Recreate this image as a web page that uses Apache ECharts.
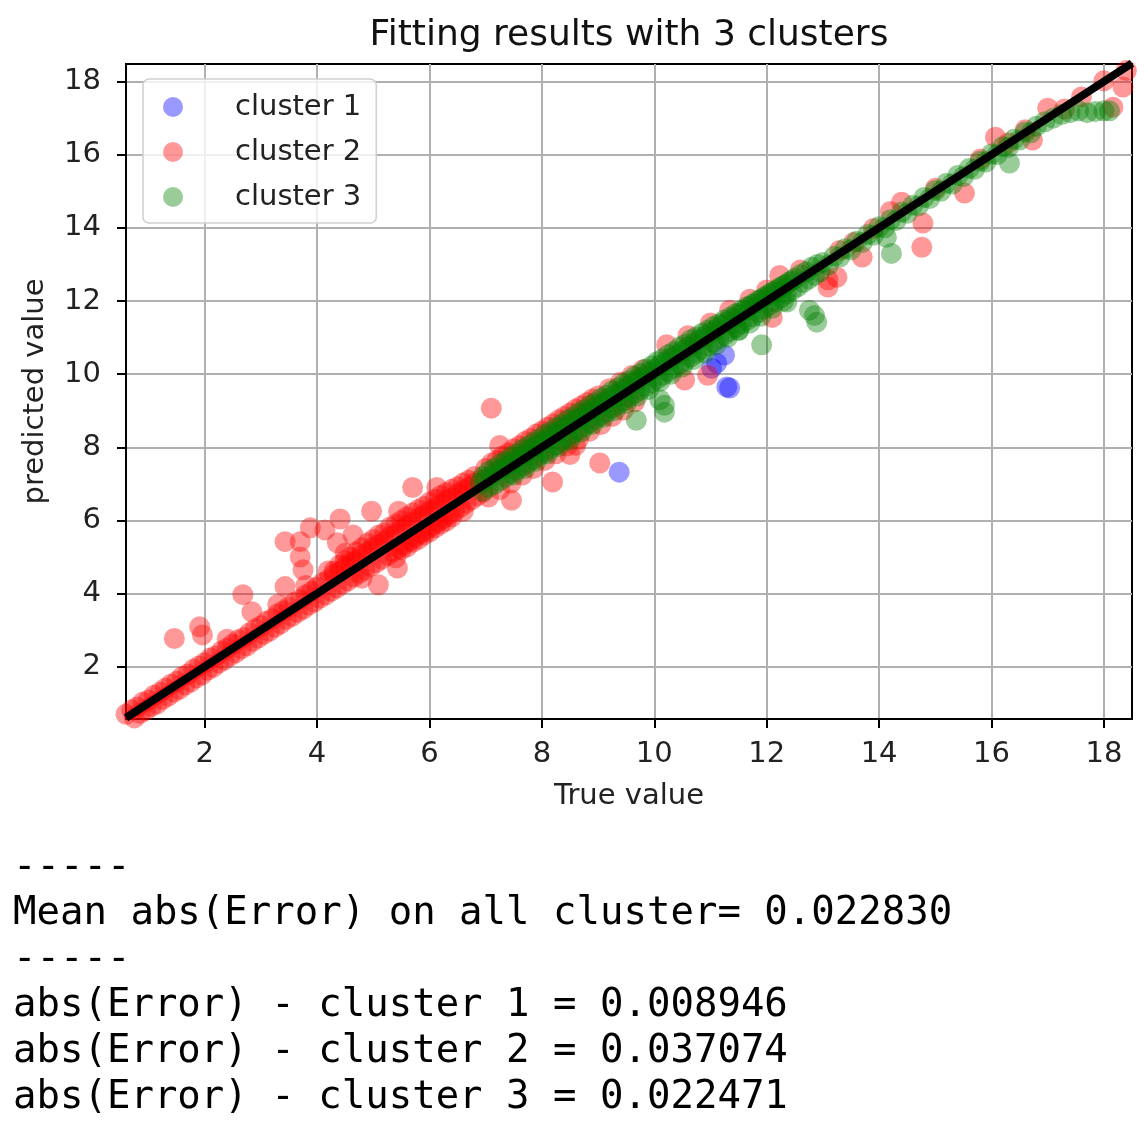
<!DOCTYPE html>
<html>
<head>
<meta charset="utf-8">
<script src="https://cdn.jsdelivr.net/npm/echarts@6/dist/echarts.min.js"></script>
<style>
html,body{margin:0;padding:0;background:#fff;}
#chart{width:1148px;height:1126px;}
</style>
</head>
<body>
<div id="chart"></div>
<script>
// ---- data ----
const chartTitle = 'Fitting results with 3 clusters';
const xAxisName = 'True value';
const yAxisName = 'predicted value';
const seriesNames = ['cluster 1', 'cluster 2', 'cluster 3'];
const seriesColors = ['rgba(0,0,255,0.5)', 'rgba(255,0,0,0.5)', 'rgba(0,128,0,0.5)'];
const xTicks = [2, 4, 6, 8, 10, 12, 14, 16, 18];
const yTicks = [2, 4, 6, 8, 10, 12, 14, 16, 18];
const xRange = [0.6, 18.5];
const yRange = [0.57, 18.48];
const diagonalLine = [[0.6, 0.6], [18.5, 18.5]];

const cluster1Points = [
  [9.375, 7.32], [11.34, 9.62], [11.29, 9.65], [11.11, 10.3], [11.02, 10.16], [11.25, 10.52]
];

const cluster2Points = [
  // upper edge of dense band (0.6 - 6.9)
  [0.6,0.7],[0.7,0.82],[0.8,0.9],[0.9,1.03],[1.0,1.09],[1.1,1.22],[1.2,1.3],[1.3,1.41],[1.4,1.52],[1.5,1.6],
  [1.6,1.73],[1.7,1.8],[1.8,1.93],[1.9,2.02],[2.0,2.11],[2.1,2.24],[2.2,2.3],[2.3,2.43],[2.4,2.51],[2.5,2.62],
  [2.6,2.74],[2.7,2.8],[2.8,2.93],[2.9,3.03],[3.0,3.12],[3.1,3.24],[3.2,3.31],[3.3,3.45],[3.4,3.53],[3.5,3.64],
  [3.6,3.76],[3.7,3.84],[3.8,3.97],[3.9,4.06],[4.0,4.18],[4.1,4.3],[4.2,4.38],[4.3,4.52],[4.4,4.6],[4.5,4.74],
  [4.6,4.83],[4.7,4.92],[4.8,5.06],[4.9,5.14],[5.0,5.26],[5.1,5.35],[5.2,5.44],[5.3,5.57],[5.4,5.65],[5.5,5.76],
  [5.6,5.86],[5.7,5.94],[5.8,6.07],[5.9,6.15],[6.0,6.26],[6.1,6.34],[6.2,6.43],[6.3,6.55],[6.4,6.62],[6.5,6.73],
  [6.6,6.82],[6.7,6.9],[6.8,7.02],[6.9,7.1],
  // second upper row (4.3 - 6.8)
  [4.3,4.62],[4.4,4.78],[4.5,4.9],[4.6,5.0],[4.7,5.14],[4.8,5.25],[4.9,5.38],[5.0,5.48],[5.1,5.6],[5.2,5.66],
  [5.3,5.82],[5.4,5.9],[5.5,6.0],[5.6,6.1],[5.7,6.2],[5.8,6.3],[5.9,6.38],[6.0,6.5],[6.1,6.58],[6.2,6.68],
  [6.3,6.76],[6.4,6.85],[6.5,6.92],[6.6,7.02],[6.7,7.1],[6.8,7.2],
  // lower edge of dense band (0.65 - 6.95)
  [0.65,0.52],[0.75,0.6],[0.85,0.72],[0.95,0.8],[1.05,0.91],[1.15,0.98],[1.25,1.1],[1.35,1.19],[1.45,1.3],[1.55,1.38],
  [1.65,1.5],[1.75,1.58],[1.85,1.69],[1.95,1.78],[2.05,1.9],[2.15,1.98],[2.25,2.1],[2.35,2.18],[2.45,2.29],[2.55,2.38],
  [2.65,2.49],[2.75,2.57],[2.85,2.69],[2.95,2.78],[3.05,2.88],[3.15,2.97],[3.25,3.08],[3.35,3.17],[3.45,3.29],[3.55,3.37],
  [3.65,3.48],[3.75,3.57],[3.85,3.68],[3.95,3.77],[4.05,3.87],[4.15,3.96],[4.25,4.06],[4.35,4.15],[4.45,4.26],[4.55,4.35],
  [4.65,4.45],[4.75,4.55],[4.85,4.64],[4.95,4.74],[5.05,4.84],[5.15,4.94],[5.25,5.04],[5.35,5.14],[5.45,5.24],[5.55,5.34],
  [5.65,5.44],[5.75,5.55],[5.85,5.64],[5.95,5.75],[6.05,5.85],[6.15,5.96],[6.25,6.05],[6.35,6.16],[6.45,6.26],[6.55,6.36],
  [6.65,6.47],[6.75,6.56],[6.85,6.67],[6.95,6.77],
  // second lower row (5.5 - 6.4)
  [5.5,5.2],[5.6,5.28],[5.7,5.4],[5.8,5.48],[5.9,5.6],[6.0,5.68],[6.1,5.8],[6.2,5.9],[6.3,5.98],[6.4,6.1],
  // red around the green band (7 - 10)
  [7.0,7.42],[7.1,7.56],[7.2,7.64],[7.3,7.76],[7.4,7.84],[7.5,7.96],[7.6,8.04],[7.7,8.16],[7.8,8.24],[7.9,8.36],
  [8.0,8.44],[8.1,8.55],[8.2,8.64],[8.3,8.75],[8.4,8.84],[8.5,8.94],[8.6,9.04],[8.7,9.13],[8.8,9.22],[8.9,9.32],
  [9.0,9.4],[9.2,9.6],[9.4,9.78],[9.6,9.96],[9.8,10.12],
  [7.05,6.64],[7.25,6.84],[7.45,7.02],[7.65,7.24],[7.85,7.42],[8.05,7.64],[8.25,7.82],[8.45,8.04],[8.65,8.22],[8.85,8.44],
  [9.05,8.62],[9.25,8.84],[9.45,9.02],[9.65,9.24],
  // spread around band
  [2.4,2.75],[3.3,3.7],[3.8,4.22],[4.2,4.62],[4.8,4.42],[5.4,4.98],[6.6,6.25],[5.45,6.25],[4.5,5.1],
  // outliers
  [1.46,2.77],[1.91,3.09],[1.96,2.87],[2.68,3.97],[2.84,3.5],[3.43,5.42],[3.7,5.42],[3.88,5.8],[4.14,5.74],[4.41,6.04],
  [3.7,5.0],[3.75,4.65],[3.43,4.19],[4.36,5.39],[4.64,5.6],[4.97,6.25],[5.09,4.24],[5.43,4.7],[5.7,6.9],[6.13,6.9],
  [7.1,9.07],[7.25,8.05],[7.46,6.55],[8.19,7.05],[9.03,7.57],[8.5,7.8],[8.6,8.05],
  // 10 - 13
  [10.22,10.8],[10.6,11.05],[11.0,11.4],[11.34,11.75],[11.7,12.05],[12.0,12.3],[12.23,12.7],[12.6,12.85],
  [10.54,9.84],[10.95,9.97],[12.1,11.55],[13.09,12.38],[13.25,12.65],[13.7,13.2],[13.09,12.58],
  // 13 - 18.5
  [13.3,13.38],[13.55,13.6],[13.9,13.98],[14.2,14.45],[14.4,14.7],[14.78,14.13],[14.76,13.47],[15.0,15.08],
  [15.52,14.95],[15.8,15.88],[16.07,16.48],[16.3,16.32],[16.6,16.68],[16.73,16.4],[17.0,17.27],[17.3,17.25],
  [17.6,17.58],[18.0,18.02],[18.16,17.3],[18.34,17.85],[18.4,18.3],[18.45,18.55]
];

const cluster3Points = [
  // top row of band (6.95 - 12.45)
  [6.95,7.2],[7.05,7.34],[7.15,7.42],[7.25,7.54],[7.35,7.62],[7.45,7.74],[7.55,7.82],[7.65,7.94],[7.75,8.02],[7.85,8.14],
  [7.95,8.22],[8.05,8.34],[8.15,8.42],[8.25,8.54],[8.35,8.62],[8.45,8.74],[8.55,8.82],[8.65,8.94],[8.75,9.02],[8.85,9.14],
  [8.95,9.22],[9.05,9.34],[9.15,9.42],[9.25,9.54],[9.35,9.62],[9.45,9.74],[9.55,9.82],[9.65,9.94],[9.75,10.02],[9.85,10.14],
  [9.95,10.22],[10.05,10.34],[10.15,10.42],[10.25,10.54],[10.35,10.62],[10.45,10.74],[10.55,10.82],[10.65,10.94],[10.75,11.02],[10.85,11.12],
  [10.95,11.2],[11.05,11.3],[11.15,11.38],[11.25,11.48],[11.35,11.56],[11.45,11.66],[11.55,11.74],[11.65,11.84],[11.75,11.92],[11.85,12.02],
  [11.95,12.1],[12.05,12.2],[12.15,12.28],[12.25,12.38],[12.35,12.46],[12.45,12.56],
  // upper edge of band (6.9 - 12.9)
  [6.9,7.02],[7.0,7.13],[7.1,7.21],[7.2,7.34],[7.3,7.42],[7.4,7.53],[7.5,7.63],[7.6,7.74],[7.7,7.82],[7.8,7.95],
  [7.9,8.03],[8.0,8.14],[8.1,8.23],[8.2,8.35],[8.3,8.43],[8.4,8.54],[8.5,8.63],[8.6,8.75],[8.7,8.83],[8.8,8.94],
  [8.9,9.03],[9.0,9.15],[9.1,9.23],[9.2,9.34],[9.3,9.44],[9.4,9.53],[9.5,9.65],[9.6,9.73],[9.7,9.84],[9.8,9.93],
  [9.9,10.05],[10.0,10.13],[10.1,10.24],[10.2,10.33],[10.3,10.45],[10.4,10.53],[10.5,10.64],[10.6,10.74],[10.7,10.83],[10.8,10.95],
  [10.9,11.03],[11.0,11.14],[11.1,11.23],[11.2,11.35],[11.3,11.43],[11.4,11.53],[11.5,11.64],[11.6,11.73],[11.7,11.85],[11.8,11.93],
  [11.9,12.04],[12.0,12.13],[12.1,12.23],[12.2,12.33],[12.3,12.42],[12.4,12.52],[12.5,12.62],[12.6,12.72],[12.7,12.8],[12.8,12.92],
  [12.9,13.0],
  // lower edge of band (6.95 - 12.95)
  [6.95,6.8],[7.05,6.9],[7.15,6.98],[7.25,7.08],[7.35,7.18],[7.45,7.28],[7.55,7.37],[7.65,7.48],[7.75,7.57],[7.85,7.67],
  [7.95,7.77],[8.05,7.87],[8.15,7.96],[8.25,8.07],[8.35,8.16],[8.45,8.27],[8.55,8.36],[8.65,8.47],[8.75,8.56],[8.85,8.67],
  [8.95,8.76],[9.05,8.87],[9.15,8.96],[9.25,9.07],[9.35,9.16],[9.45,9.27],[9.55,9.36],[9.65,9.47],[9.75,9.56],[9.85,9.67],
  [9.95,9.76],[10.05,9.87],[10.15,9.96],[10.25,10.07],[10.35,10.16],[10.45,10.27],[10.55,10.36],[10.65,10.47],[10.75,10.57],[10.85,10.67],
  [10.95,10.77],[11.05,10.87],[11.15,10.97],[11.25,11.07],[11.35,11.17],[11.45,11.27],[11.55,11.37],[11.65,11.48],[11.75,11.57],[11.85,11.68],
  [11.95,11.78],[12.05,11.88],[12.15,11.98],[12.25,12.08],[12.35,12.19],[12.45,12.29],[12.55,12.39],[12.65,12.5],[12.75,12.6],[12.85,12.7],
  [12.95,12.8],
  // further below the line (7.5 - 12.3)
  [7.5,7.24],[7.7,7.42],[7.9,7.62],[8.1,7.82],[8.3,8.02],[8.5,8.2],[8.7,8.42],[8.9,8.62],[9.1,8.82],[9.3,9.0],
  [9.5,9.2],[9.7,9.4],[9.9,9.58],[10.1,9.8],[10.3,10.0],[10.5,10.2],[10.7,10.4],[10.9,10.58],[11.1,10.8],[11.3,11.0],
  [11.5,11.2],[11.7,11.4],[11.9,11.58],[12.1,11.8],[12.3,12.0],
  // 13 - 18.1
  [13.0,13.05],[13.1,12.98],[13.2,13.22],[13.3,13.2],[13.4,13.43],[13.5,13.4],[13.6,13.63],[13.7,13.6],[13.8,13.82],[13.9,13.8],
  [14.0,14.03],[14.1,14.0],[14.2,14.22],[14.3,14.2],[14.4,14.43],[14.5,14.4],[14.6,14.62],[14.7,14.6],[14.8,14.83],[14.9,14.8],
  [15.0,15.02],[15.1,15.0],[15.2,15.22],[15.3,15.2],[15.4,15.43],[15.5,15.4],[15.6,15.62],[15.7,15.6],[15.8,15.82],[15.9,15.8],
  [16.0,16.02],[16.1,16.0],[16.2,16.22],[16.3,16.2],[16.4,16.42],[16.5,16.4],[16.6,16.62],[16.7,16.6],[16.8,16.78],[16.95,16.9],
  [17.1,17.0],[17.25,17.1],[17.4,17.15],[17.55,17.2],[17.7,17.15],[17.85,17.18],[18.0,17.2],[18.1,17.2],
  // outliers
  [9.68,8.74],[10.18,8.96],[10.18,9.15],[10.1,9.3],[11.91,10.8],[12.89,11.42],[12.76,11.75],[12.36,11.97],[14.22,13.3],[14.13,13.74],
  [16.32,15.77],[12.85,11.6],[11.5,11.2]
];

const errorLines = [
  '-----',
  'Mean abs(Error) on all cluster= 0.022830',
  '-----',
  'abs(Error) - cluster 1 = 0.008946',
  'abs(Error) - cluster 2 = 0.037074',
  'abs(Error) - cluster 3 = 0.022471'
];

// ---- chart ----
const chart = echarts.init(document.getElementById('chart'), null, { renderer: 'canvas' });
const FONT = 'DejaVu Sans';
const MONO = 'DejaVu Sans Mono';

function axisCommon(name, ticks, range, isX) {
  return {
    type: 'value',
    min: range[0],
    max: range[1],
    splitNumber: 9,
    name: name,
    nameLocation: 'middle',
    nameGap: isX ? 63 : 76,
    nameTextStyle: { fontFamily: FONT, fontSize: 29, color: '#222' },
    axisLine: { show: true, onZero: false, lineStyle: { color: '#000', width: 2 } },
    axisTick: { show: true, length: 9, customValues: ticks, lineStyle: { color: '#000', width: 2 } },
    axisLabel: {
      customValues: ticks, margin: isX ? 21 : 25,
      fontFamily: FONT, fontSize: 29, color: '#222'
    },
    splitLine: { show: true, lineStyle: { color: '#b0b0b0', width: 2 } }
  };
}

const scatterSeries = [cluster1Points, cluster2Points, cluster3Points].map((pts, i) => ({
  name: seriesNames[i],
  type: 'scatter',
  data: pts,
  symbol: 'circle',
  symbolSize: 21,
  itemStyle: { color: seriesColors[i] },
  emphasis: { disabled: true },
  animation: false
}));

const graphics = errorLines.map((t, i) => ({
  type: 'text',
  left: 13,
  top: 848 + 46 * i,
  style: { text: t, font: '39px "' + MONO + '"', fill: '#000' }
}));

chart.setOption({
  animation: false,
  title: {
    text: chartTitle,
    left: 624,
    top: 13,
    textAlign: 'center',
    textStyle: { fontFamily: FONT, fontSize: 36, fontWeight: 'normal', color: '#111' }
  },
  grid: {
    left: 126, right: 16, top: 64, bottom: 407,
    show: true, borderColor: '#000', borderWidth: 2, backgroundColor: 'transparent'
  },
  legend: {
    data: seriesNames,
    orient: 'vertical',
    left: 143,
    top: 79,
    icon: 'circle',
    itemWidth: 40,
    itemHeight: 20,
    itemGap: 15,
    padding: [13, 15, 11, 20],
    backgroundColor: 'rgba(255,255,255,0.8)',
    borderColor: '#d0d0d0',
    borderWidth: 1.5,
    borderRadius: 6,
    textStyle: { fontFamily: FONT, fontSize: 29, color: '#222', lineHeight: 30, padding: [0, 0, 0, 37] }
  },
  xAxis: axisCommon(xAxisName, xTicks, xRange, true),
  yAxis: axisCommon(yAxisName, yTicks, yRange, false),
  series: scatterSeries.concat([{
    name: 'y = x',
    type: 'line',
    data: diagonalLine,
    showSymbol: false,
    symbol: 'none',
    clip: true,
    silent: true,
    lineStyle: { color: '#000', width: 8 },
    animation: false
  }]),
  graphic: graphics
});
</script>
</body>
</html>
